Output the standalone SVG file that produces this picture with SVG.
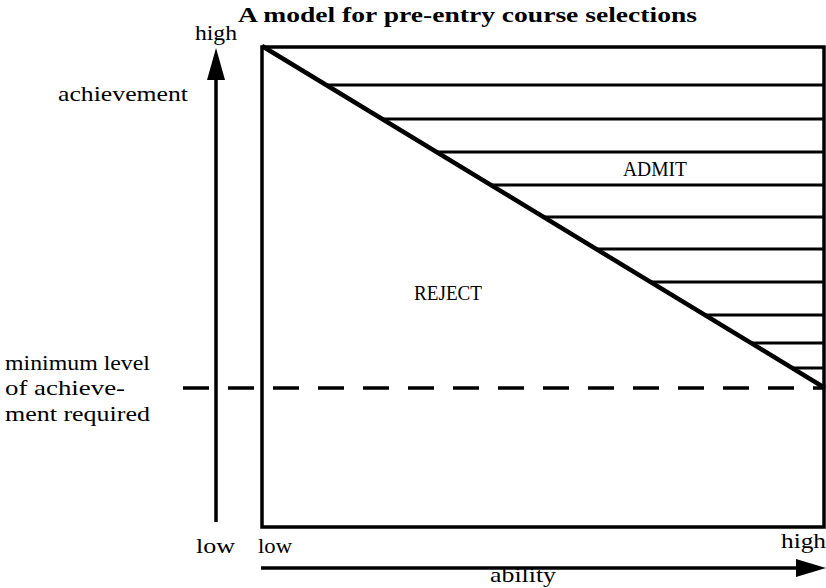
<svg xmlns="http://www.w3.org/2000/svg" width="826" height="588" viewBox="0 0 826 588">
<style>
text{font-family:"Liberation Serif","Times New Roman",serif;fill:#000;font-size:22px}
.t{font-weight:bold;font-size:20px}
.ln{stroke:#000;fill:none}
</style>
<rect width="826" height="588" fill="#fff"/>
<text class="t" x="238" y="22" textLength="459" lengthAdjust="spacingAndGlyphs">A model for pre-entry course selections</text>
<g id="box">
<path class="ln" stroke-width="3.5" d="M262,47 H824 V527 H262 Z"/>
</g>
<g id="admit-region">
<g class="ln" stroke-width="3">
<line x1="326" y1="85" x2="824" y2="85"/>
<line x1="382" y1="119" x2="824" y2="119"/>
<line x1="436" y1="152" x2="824" y2="152"/>
<line x1="491" y1="185" x2="824" y2="185"/>
<line x1="543" y1="217" x2="824" y2="217"/>
<line x1="596" y1="249" x2="824" y2="249"/>
<line x1="650" y1="282" x2="824" y2="282"/>
<line x1="705" y1="315" x2="824" y2="315"/>
<line x1="751" y1="343" x2="824" y2="343"/>
<line x1="792" y1="368" x2="824" y2="368"/>
</g>
<text x="655" y="176" text-anchor="middle" font-size="18" textLength="64" lengthAdjust="spacingAndGlyphs">ADMIT</text>
</g>
<g id="reject-region">
<text x="414" y="300" font-size="18" textLength="68" lengthAdjust="spacingAndGlyphs">REJECT</text>
</g>
<g id="connectors">
<line class="ln" stroke-width="4.5" x1="262" y1="46" x2="825" y2="388"/>
<line class="ln" stroke-width="3.5" stroke-dasharray="26,19" x1="183" y1="388" x2="825" y2="388"/>
<line class="ln" stroke-width="3.5" x1="216" y1="522" x2="216" y2="70"/>
<path d="M216,48 L207,80 L225,80 Z" fill="#000"/>
<line class="ln" stroke-width="3.5" x1="261" y1="568" x2="800" y2="568"/>
<path d="M826,568 L796,559 L796,577 Z" fill="#000"/>
</g>
<g id="labels">
<text x="195" y="40" textLength="42" lengthAdjust="spacingAndGlyphs">high</text>
<text x="58" y="101" textLength="130" lengthAdjust="spacingAndGlyphs">achievement</text>
<text x="5" y="370" textLength="145" lengthAdjust="spacingAndGlyphs">minimum level</text>
<text x="5" y="395" textLength="120" lengthAdjust="spacingAndGlyphs">of achieve-</text>
<text x="5" y="421" textLength="145" lengthAdjust="spacingAndGlyphs">ment required</text>
<text x="196" y="553" textLength="39" lengthAdjust="spacingAndGlyphs">low</text>
<text x="258" y="553" textLength="34" lengthAdjust="spacingAndGlyphs">low</text>
<text x="781" y="548" textLength="45" lengthAdjust="spacingAndGlyphs">high</text>
<text x="523" y="582" text-anchor="middle" font-size="21" textLength="66" lengthAdjust="spacingAndGlyphs">ability</text>
</g>
</svg>
